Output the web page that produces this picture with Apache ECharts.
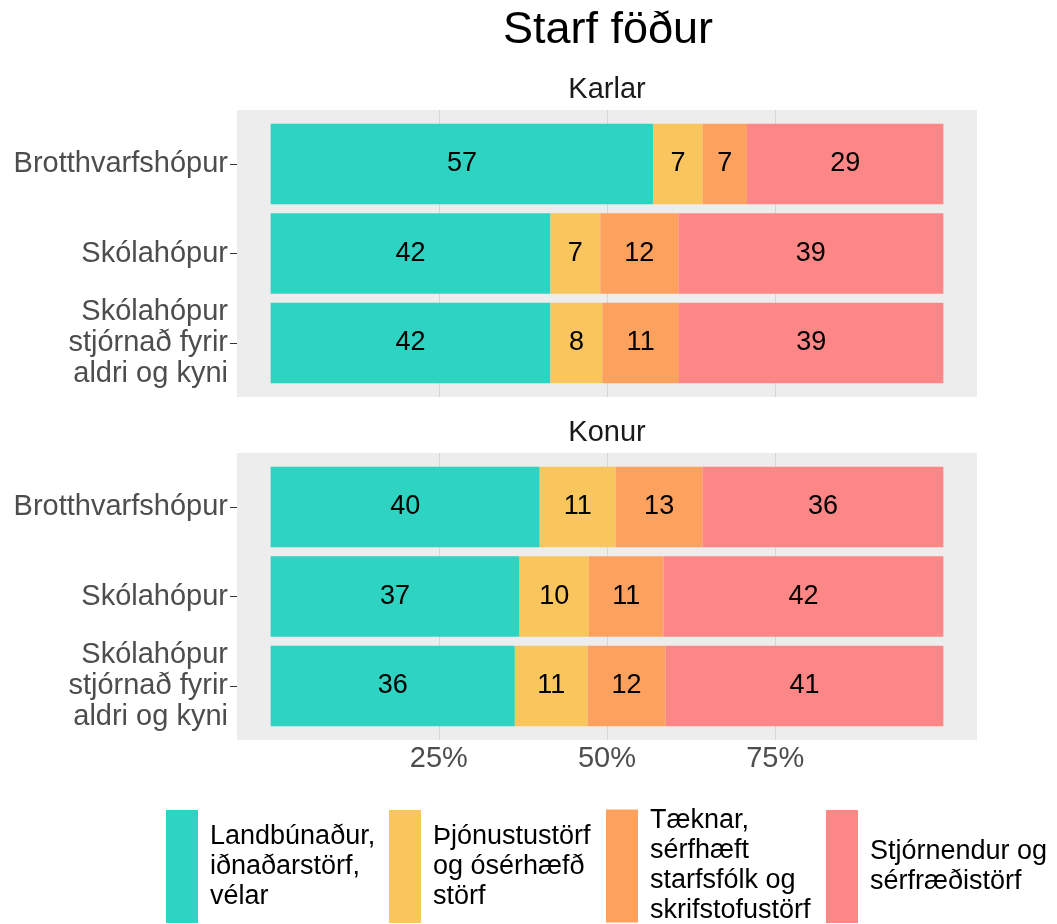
<!DOCTYPE html>
<html>
<head>
<meta charset="utf-8">
<script src="https://cdn.jsdelivr.net/npm/echarts@6/dist/echarts.min.js"></script>
<style>
    html, body { margin: 0; padding: 0; background: #fff; }
    #chart { width: 1057px; height: 924px; }
</style>
</head>
<body>
<div id="chart"></div>
<script>
const categories = ['Brotthvarfshópur', 'Skólahópur', 'Skólahópur\nstjórnað fyrir\naldri og kyni']
const groupNames = ['Karlar', 'Konur']
const seriesNames = [
    'Landbúnaður, iðnaðarstörf, vélar',
    'Þjónustustörf og ósérhæfð störf',
    'Tæknar, sérfhæft starfsfólk og skrifstofustörf',
    'Stjórnendur og sérfræðistörf',
]
const legendLabels = [
    'Landbúnaður,\niðnaðarstörf,\nvélar',
    'Þjónustustörf\nog ósérhæfð\nstörf',
    'Tæknar,\nsérfhæft\nstarfsfólk og\nskrifstofustörf',
    'Stjórnendur og\nsérfræðistörf',
]
// hlutfall (%) fyrir hvern hóp, í röð categories
const karlarLandbunadur = [56.9, 41.6, 41.6]
const karlarThjonusta = [7.3, 7.4, 7.7]
const karlarTaeknar = [6.6, 11.6, 11.4]
const karlarStjornendur = [29.2, 39.4, 39.3]
const konurLandbunadur = [40.0, 37.0, 36.3]
const konurThjonusta = [11.3, 10.3, 10.8]
const konurTaeknar = [12.9, 11.1, 11.6]
const konurStjornendur = [35.8, 41.6, 41.3]
const xTicks = [25, 50, 75]

const colors = ['#2ED3C1', '#F9C55D', '#FDA15E', '#FD8686']
const font = 'Liberation Sans, Arial, sans-serif'

const panelData = [
    [karlarLandbunadur, karlarThjonusta, karlarTaeknar, karlarStjornendur],
    [konurLandbunadur, konurThjonusta, konurTaeknar, konurStjornendur],
]

// panel (grár bakgrunnur) og súlusvæði
const panelTops = [110, 453]
const panelHeight = 287
const band = 89.5

const grids = []
const xAxes = []
const yAxes = []
const series = []

// x-ás frá -5 til 105 (útvíkkun eins og í ggplot), bil 5, aðeins 25/50/75 sýnilegar
const splitColors = []
for (let v = -5; v <= 105; v += 5) {
    splitColors.push(xTicks.includes(v) ? '#D6D6D6' : 'rgba(0,0,0,0)')
}

panelTops.forEach((top, p) => {
    const barTop = top + panelHeight / 2 - 1.5 * band
    // bakgrunnur
    grids.push({ left: 237, width: 740, top: top, height: panelHeight, show: true, backgroundColor: '#EDEDED', borderWidth: 0 })
    // súlur
    grids.push({ left: 237, width: 740, top: barTop, height: 3 * band })

    xAxes.push({
        type: 'value', gridIndex: 2 * p, min: -5, max: 105, interval: 5, position: 'top',
        name: groupNames[p], nameLocation: 'middle', nameGap: 6,
        nameTextStyle: { fontSize: 29, color: '#1A1A1A', fontFamily: font },
        axisLine: { show: false }, axisTick: { show: false }, axisLabel: { show: false },
        splitLine: { show: true, lineStyle: { color: splitColors, width: 1 } },
    })
    yAxes.push({ type: 'value', gridIndex: 2 * p, min: 0, max: 1, show: false })

    xAxes.push({
        type: 'value', gridIndex: 2 * p + 1, min: -5, max: 105, interval: 5, position: 'bottom',
        offset: top + panelHeight - (barTop + 3 * band),
        axisLine: { show: false, onZero: false }, axisTick: { show: false }, splitLine: { show: false },
        axisLabel: {
            show: p === 1,
            formatter: (v) => (xTicks.includes(v) ? v + '%' : ''),
            margin: 4, fontSize: 29, color: '#4D4D4D', fontFamily: font,
        },
    })
    yAxes.push({
        type: 'category', gridIndex: 2 * p + 1, data: categories, inverse: true, position: 'left',
        axisLine: { show: false, onZero: false },
        axisTick: { show: true, length: 7, alignWithLabel: true, lineStyle: { color: '#333333', width: 1 } },
        axisLabel: { margin: 9, fontSize: 29, lineHeight: 31, color: '#4D4D4D', fontFamily: font },
    })

    panelData[p].forEach((values, i) => {
        series.push({
            name: seriesNames[i],
            type: 'bar',
            stack: 'panel' + p,
            xAxisIndex: 2 * p + 1,
            yAxisIndex: 2 * p + 1,
            barWidth: '90%',
            itemStyle: { color: colors[i] },
            label: {
                show: true, position: 'inside', color: '#000', fontSize: 27, fontFamily: font,
                formatter: (d) => Math.round(d.value),
            },
            data: values,
        })
    })
})

const legendLefts = [166, 389, 606, 826]
const legendTops = [810, 810, 806, 810]
const legends = seriesNames.map((name, i) => ({
    data: [name],
    left: legendLefts[i],
    top: legendTops[i],
    padding: 0,
    icon: 'rect',
    itemWidth: 32,
    itemHeight: 113,
    selectedMode: false,
    formatter: () => legendLabels[i],
    textStyle: { fontSize: 27, lineHeight: 30, color: '#000', fontFamily: font, padding: [0, 0, 0, 7] },
}))

const chart = echarts.init(document.getElementById('chart'))
chart.setOption({
    animation: false,
    textStyle: { fontFamily: font },
    graphic: [{
        type: 'text', x: 608, y: 31,
        style: { text: 'Starf föður', font: '45px ' + font, fill: '#000', textAlign: 'center', textVerticalAlign: 'middle' },
    }],
    grid: grids,
    xAxis: xAxes,
    yAxis: yAxes,
    legend: legends,
    series: series,
})
</script>
</body>
</html>
